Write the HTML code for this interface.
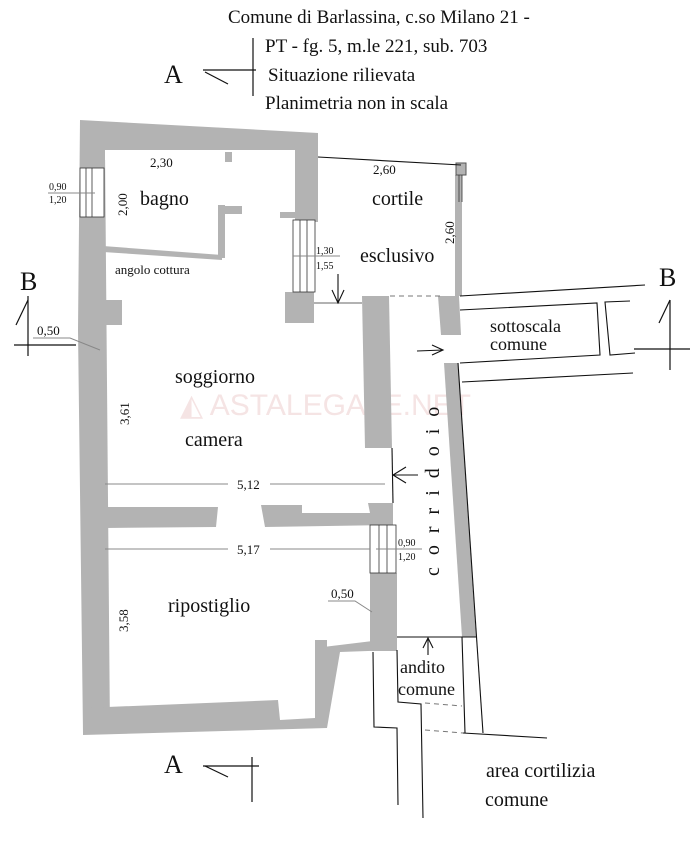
<!DOCTYPE html>
<html><head><meta charset="utf-8"><style>
html,body{margin:0;padding:0;background:#fff;}
svg{display:block;}
text{font-family:"Liberation Serif",serif;fill:#111;}
</style></head><body>
<svg width="690" height="847" viewBox="0 0 690 847" xmlns="http://www.w3.org/2000/svg">
<!-- title -->
<text x="228" y="23" font-size="19">Comune di Barlassina, c.so Milano 21 -</text>
<text x="265" y="52" font-size="19">PT - fg. 5, m.le 221, sub. 703</text>
<text x="268" y="81" font-size="19">Situazione rilievata</text>
<text x="265" y="109" font-size="19">Planimetria non in scala</text>
<!-- A markers -->
<text x="164" y="83" font-size="26">A</text>
<g stroke="#111" stroke-width="1.2" fill="none">
<line x1="203" y1="70" x2="256" y2="70"/><line x1="205" y1="72" x2="228" y2="84"/><line x1="253" y1="38" x2="253" y2="96"/>
<line x1="203" y1="766" x2="259" y2="766"/><line x1="205" y1="766" x2="228" y2="777"/><line x1="252" y1="757" x2="252" y2="802"/>
<line x1="28" y1="296" x2="28" y2="356"/><line x1="14" y1="345" x2="76" y2="345"/><line x1="16" y1="325" x2="28" y2="300"/>
<line x1="670" y1="300" x2="670" y2="370"/><line x1="634" y1="349" x2="690" y2="349"/><line x1="659" y1="323" x2="670" y2="300"/>
</g>
<text x="164" y="773" font-size="26">A</text>
<text x="20" y="290" font-size="26">B</text>
<text x="659" y="286" font-size="26">B</text>
<!-- watermark -->
<text x="180" y="415" font-size="30" style="font-family:'Liberation Sans',sans-serif;fill:#f5e4e4">◭ ASTALEGALE.NET</text>
<!-- walls -->
<g fill="#b3b3b3">
<polygon points="80,120 318,133 318,222 295,222 295,150 105,150 110,733 83,733 78,330"/>
<polygon points="105,150 295,150 295,160 105,160" fill="#fff"/>
<polygon points="83,708 278,700 280,720 315,718 315,648 397,638 397,650 340,652 327,728 83,735"/>
<rect x="315" y="640" width="12" height="88"/>
<rect x="370" y="573" width="27" height="78"/>
<polygon points="103,246 222,255 222,260 103,252"/>
<rect x="218" y="205" width="7" height="53"/>
<rect x="218" y="206" width="24" height="8"/>
<rect x="225" y="152" width="7" height="10"/>
<rect x="280" y="212" width="16" height="6"/>
<rect x="285" y="292" width="29" height="31"/>
<rect x="100" y="300" width="22" height="25"/>
<polygon points="103,507 218,507 216,527 105,528"/>
<polygon points="261,505 302,505 302,513 370,513 368,503 393,503 393,525 265,527"/>
<polygon points="362,296 389,296 392,448 365,448"/>
<polygon points="438,296 459,296 461,335 441,335"/>
<rect x="455" y="175" width="7" height="121"/>
<polygon points="444,363 458,363 476,637 462,637"/>
<rect x="456" y="163" width="10" height="12" stroke="#555" stroke-width="1"/>
</g>
<!-- windows -->
<g fill="#fff" stroke="#333" stroke-width="0.8">
<rect x="80" y="168" width="24" height="49"/>
<line x1="86" y1="168" x2="86" y2="217"/><line x1="92" y1="168" x2="92" y2="217"/>
<rect x="293" y="220" width="22" height="72"/>
<line x1="300" y1="220" x2="300" y2="292"/><line x1="307" y1="220" x2="307" y2="292"/>
<rect x="370" y="525" width="26" height="48"/>
<line x1="379" y1="525" x2="379" y2="573"/><line x1="387" y1="525" x2="387" y2="573"/>
<line x1="459" y1="175" x2="459" y2="202"/><line x1="462" y1="175" x2="462" y2="202"/>
</g>
<!-- thin lines -->
<g stroke="#111" stroke-width="1.1" fill="none">
<line x1="318" y1="157" x2="461" y2="165"/>
<line x1="460" y1="296" x2="645" y2="285"/>
<polyline points="460,310 597,303 600,355 460,363"/>
<polyline points="630,301 605,302 610,355 635,353"/>
<line x1="462" y1="382" x2="633" y2="373"/>
<line x1="458" y1="363" x2="483" y2="733"/>
<line x1="462" y1="637" x2="465" y2="733"/>
<line x1="392" y1="448" x2="393" y2="503"/>
<polyline points="373,652 374,727 397,728 398,805"/>
<polyline points="397,650 398,702 421,704 423,818"/>
<line x1="463" y1="733" x2="547" y2="738"/>
<line x1="397" y1="637" x2="476" y2="637"/>
<line x1="314" y1="303" x2="362" y2="303" stroke="#666"/>
</g>
<g stroke="#777" stroke-width="1" stroke-dasharray="5,4" fill="none">
<line x1="390" y1="296" x2="440" y2="296"/>
<line x1="425" y1="703" x2="462" y2="706"/>
<line x1="425" y1="730" x2="463" y2="733"/>
</g>
<!-- arrows -->
<g stroke="#111" stroke-width="1.1" fill="none">
<line x1="338" y1="274" x2="338" y2="303"/><polyline points="332,290 338,303 344,290"/>
<line x1="418" y1="475" x2="393" y2="475"/><polyline points="406,467 393,475 406,483"/>
<line x1="417" y1="351" x2="443" y2="350"/><polyline points="432,345 443,350 432,355"/>
<line x1="428" y1="655" x2="428" y2="638"/><polyline points="423,648 428,638 433,648"/>
</g>
<!-- dimension lines -->
<g stroke="#888" stroke-width="1" fill="none">
<line x1="105" y1="484" x2="228" y2="484"/><line x1="270" y1="484" x2="385" y2="484"/>
<line x1="105" y1="549" x2="228" y2="549"/><line x1="270" y1="549" x2="370" y2="549"/>
<line x1="48" y1="193" x2="95" y2="193"/>
<line x1="293" y1="256" x2="340" y2="256"/>
<line x1="376" y1="549" x2="422" y2="549"/>
<polyline points="33,338 70,338 100,350"/>
<polyline points="328,601 355,601 372,612"/>
</g>
<!-- dimension texts -->
<g font-size="13">
<text x="150" y="167">2,30</text>
<text x="373" y="174">2,60</text>
<text x="237" y="489">5,12</text>
<text x="237" y="554">5,17</text>
<text x="37" y="335">0,50</text>
<text x="331" y="598">0,50</text>
<text transform="translate(127,216) rotate(-90)">2,00</text>
<text transform="translate(454,244) rotate(-90)">2,60</text>
<text transform="translate(129,425) rotate(-90)">3,61</text>
<text transform="translate(128,632) rotate(-90)">3,58</text>
</g>
<g font-size="10">
<text x="49" y="190">0,90</text><text x="49" y="203">1,20</text>
<text x="316" y="254">1,30</text><text x="316" y="269">1,55</text>
<text x="398" y="546">0,90</text><text x="398" y="560">1,20</text>
</g>
<g font-size="13"><text x="115" y="274">angolo  cottura</text></g>
<!-- room labels -->
<g font-size="20">
<text x="140" y="205">bagno</text>
<text x="372" y="205">cortile</text>
<text x="360" y="262">esclusivo</text>
<text x="175" y="383">soggiorno</text>
<text x="185" y="446">camera</text>
<text x="168" y="612">ripostiglio</text>
<text x="486" y="777">area cortilizia</text>
<text x="485" y="806">comune</text>
</g>
<g font-size="18">
<text x="490" y="332">sottoscala</text>
<text x="490" y="350">comune</text>
<text x="400" y="673">andito</text>
<text x="398" y="695">comune</text>
</g>
<text transform="translate(439,576) rotate(-90)" font-size="20" letter-spacing="12">corridoio</text>
</svg>
</body></html>
